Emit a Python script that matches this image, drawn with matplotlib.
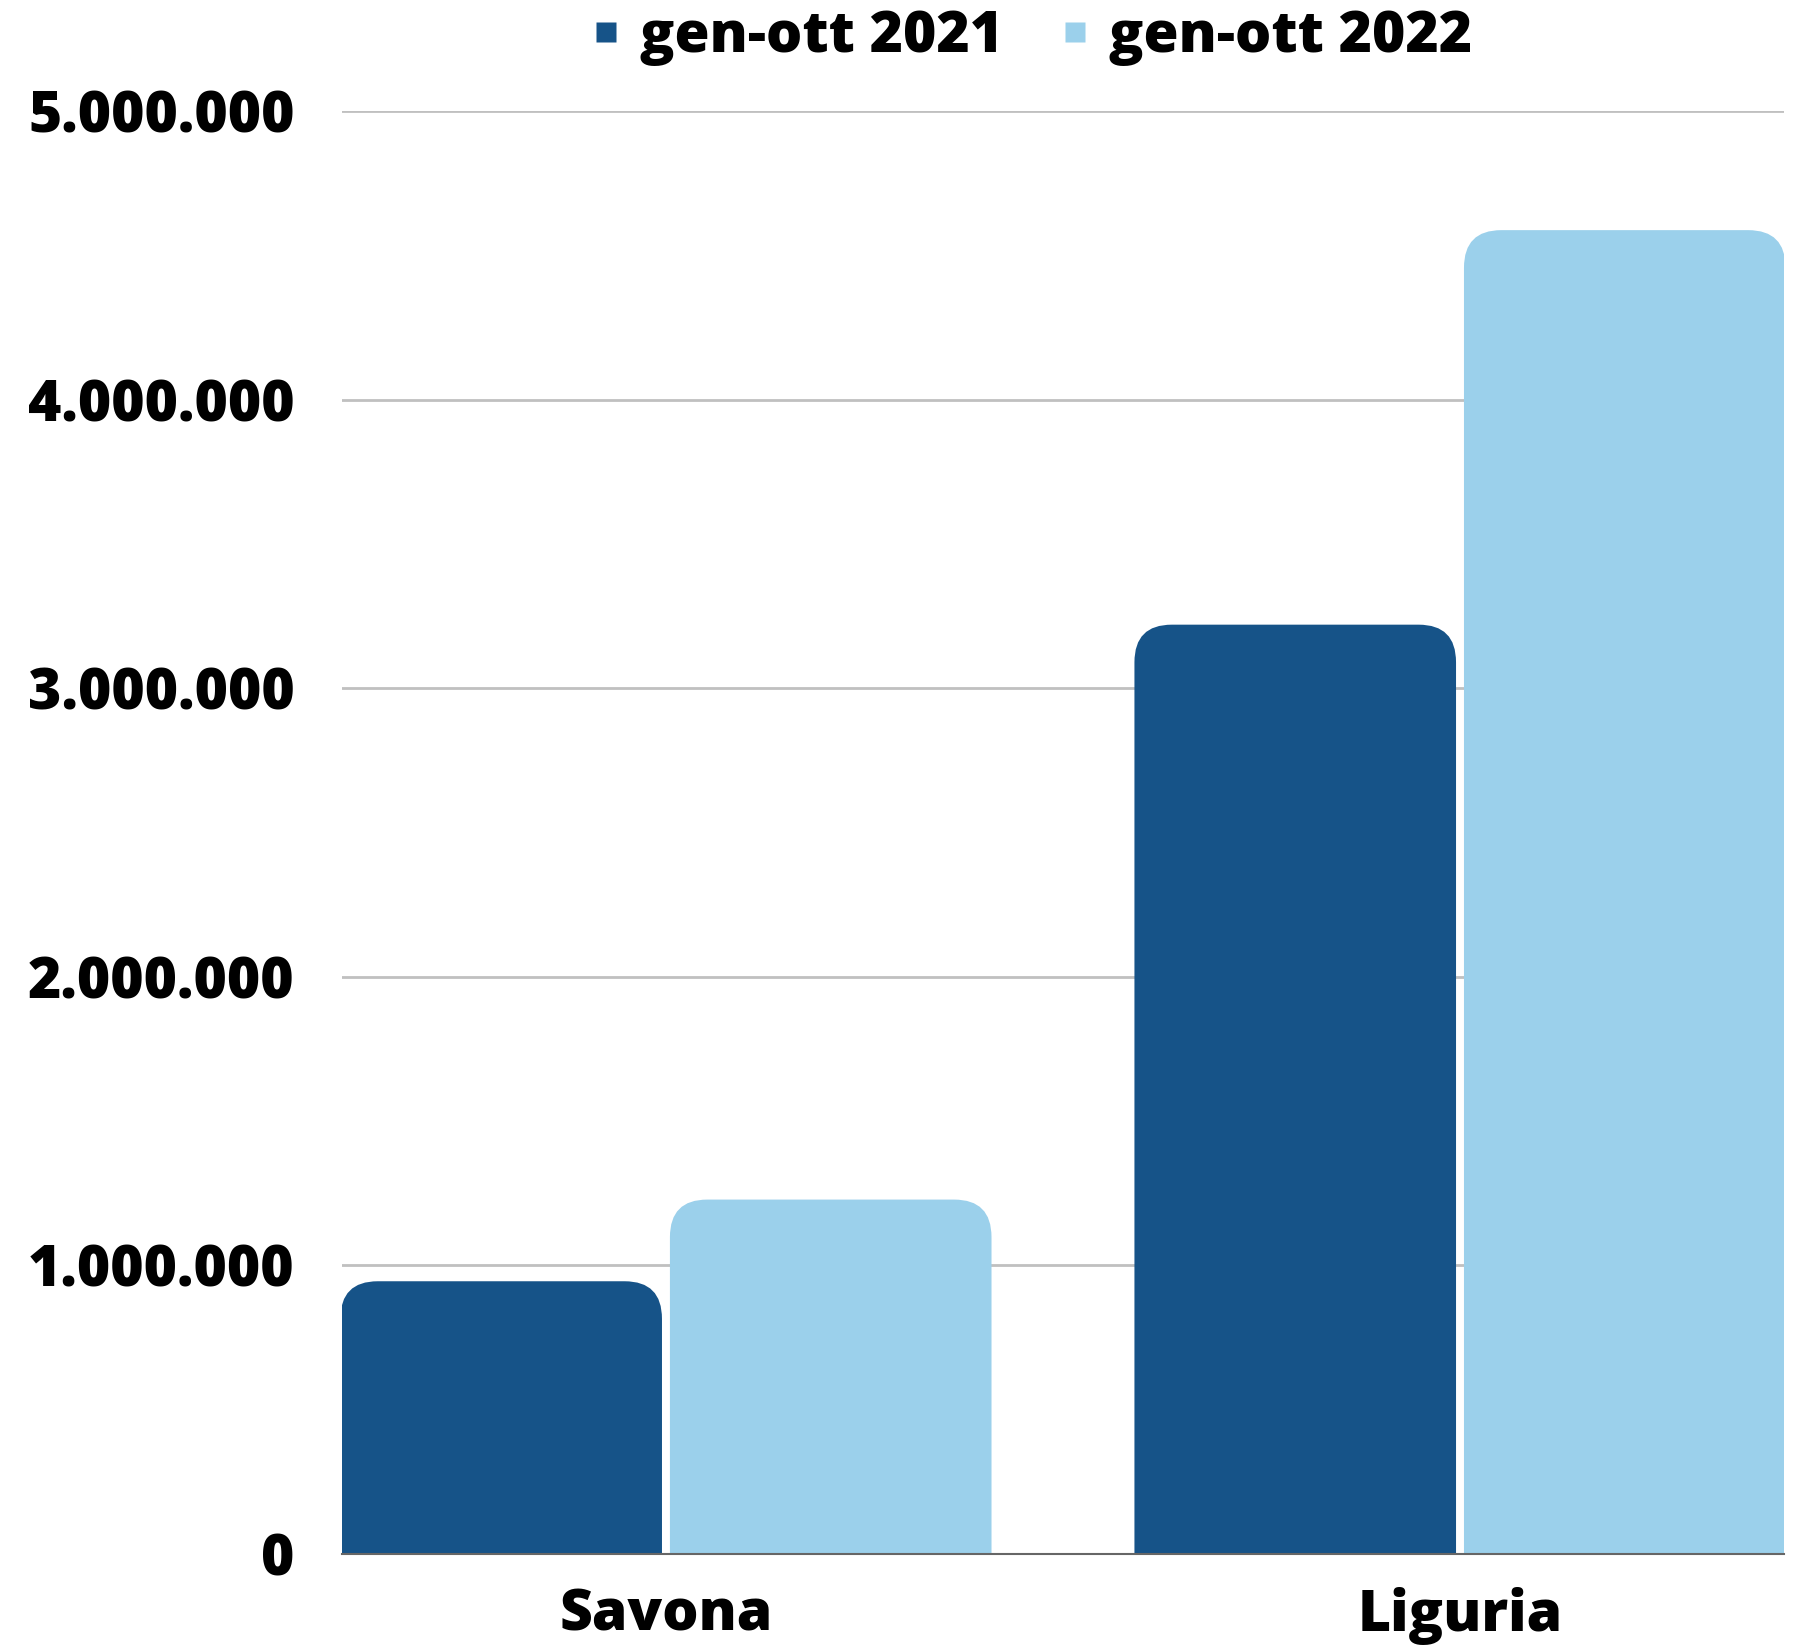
import matplotlib.pyplot as plt
from matplotlib.patches import FancyBboxPatch
from matplotlib.lines import Line2D
from matplotlib.ticker import FuncFormatter

plt.rcParams['font.family'] = ['Open Sans', 'DejaVu Sans']
plt.rcParams['font.weight'] = 'bold'

# dati
categorie = ['Savona', 'Liguria']
serie = ['gen-ott 2021', 'gen-ott 2022']
valori_2021 = [945000, 3220000]
valori_2022 = [1228000, 4587000]
colori = ['#165388', '#9bd0eb']

fig = plt.figure(figsize=(17.98, 16.46), dpi=100)
ax = fig.add_axes([0.1902, 0.0559, 0.8020, 0.8767])

larg = 0.405
off = 0.2075
x = range(len(categorie))
b1 = ax.bar([i - off for i in x], valori_2021, width=larg, color=colori[0], zorder=3)
b2 = ax.bar([i + off for i in x], valori_2022, width=larg, color=colori[1], zorder=3)

ax.set_xlim(-0.408, 1.408)
ax.set_ylim(0, 5000000)

# barre con angoli arrotondati in alto
rx = 0.047
ry = 130000
for bars in (b1, b2):
    for p in bars:
        p.set_visible(False)
        x0, w, h = p.get_x(), p.get_width(), p.get_height()
        fb = FancyBboxPatch((x0, -2 * ry), w, h + 2 * ry,
                            boxstyle=f"round,pad=0,rounding_size={rx}",
                            mutation_aspect=ry / rx,
                            facecolor=p.get_facecolor(), edgecolor='none', zorder=3)
        ax.add_patch(fb)

ax.set_yticks([0, 1000000, 2000000, 3000000, 4000000, 5000000])
ax.yaxis.set_major_formatter(FuncFormatter(lambda v, pos: f'{int(v):,}'.replace(',', '.')))
ax.set_xticks(list(x))
ax.set_xticklabels(categorie)

ax.grid(axis='y', color='#c0c0c0', linewidth=2, zorder=0)
for s in ['top', 'right', 'left']:
    ax.spines[s].set_visible(False)
ax.spines['bottom'].set_color('#666666')
ax.spines['bottom'].set_linewidth(1.5)
ax.spines['bottom'].set_zorder(4)

ax.tick_params(axis='both', length=0, labelsize=41)
ax.tick_params(axis='y', pad=34)
ax.tick_params(axis='x', pad=24)
for t in ax.get_xticklabels() + ax.get_yticklabels():
    t.set_fontweight('heavy')

handles = [Line2D([], [], marker='s', linestyle='none', markersize=14,
                  markerfacecolor=c, markeredgecolor='none') for c in colori]
leg = fig.legend(handles, serie, loc='center', bbox_to_anchor=(0.5715, 0.977),
                 ncol=2, frameon=False, fontsize=41, handletextpad=0.2,
                 columnspacing=0.85, handlelength=0.8)
for t in leg.get_texts():
    t.set_fontweight('heavy')

fig.savefig('out.png', dpi=100)
